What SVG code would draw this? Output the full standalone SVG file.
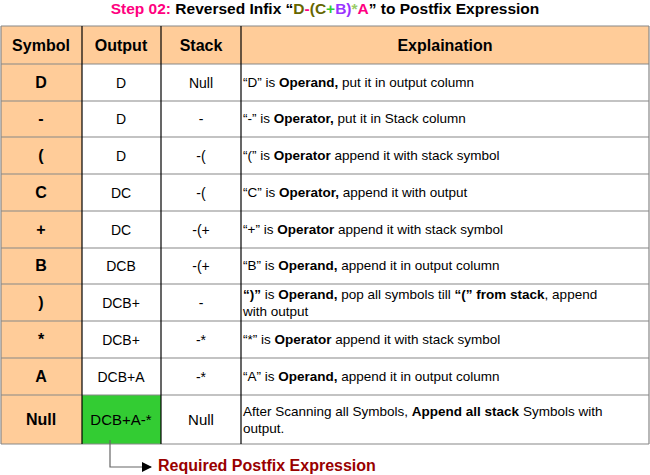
<svg xmlns="http://www.w3.org/2000/svg" width="650" height="475" viewBox="0 0 650 475">
<style>
text{font-family:"Liberation Sans",Arial,sans-serif;font-size:14px;fill:#000}
.c{text-anchor:middle}
.b{font-weight:bold}
.h{font-size:16px;font-weight:bold}
.e{font-size:13.5px}
.hl{stroke:#888;stroke-width:1.2}
.vl{stroke:#000;stroke-width:1.2}
</style>
<defs><marker id="ar" markerWidth="10" markerHeight="10" refX="9" refY="5" orient="auto" markerUnits="userSpaceOnUse"><path d="M0,0L10,5L0,10z" fill="#000"/></marker></defs>
<text x="325" y="14" class="c b" style="font-size:15.5px"><tspan fill="#ff0080">Step 02:</tspan> Reversed Infix “<tspan fill="#666600">D</tspan><tspan fill="#ff0080">-</tspan><tspan fill="#666600">(C</tspan><tspan fill="#33cc33">+</tspan><tspan fill="#9933ff">B)</tspan><tspan fill="#99cc66">*</tspan><tspan fill="#ff0080">A</tspan>” to Postfix Expression</text>
<g id="table">
<rect x="1" y="26" width="648" height="38" fill="#ffcc99"/>
<rect x="1" y="64" width="81" height="380" fill="#ffcc99"/>
<rect x="82" y="395" width="79" height="49" fill="#33cc33"/>
<g class="hl">
<line x1="1" y1="26" x2="649" y2="26"/><line x1="1" y1="64" x2="649" y2="64"/>
<line x1="1" y1="101" x2="649" y2="101"/><line x1="1" y1="137" x2="649" y2="137"/>
<line x1="1" y1="174" x2="649" y2="174"/><line x1="1" y1="211" x2="649" y2="211"/>
<line x1="1" y1="248" x2="649" y2="248"/><line x1="1" y1="284" x2="649" y2="284"/>
<line x1="1" y1="321" x2="649" y2="321"/><line x1="1" y1="358" x2="649" y2="358"/>
<line x1="1" y1="395" x2="649" y2="395"/><line x1="1" y1="444" x2="649" y2="444"/>
<line x1="1" y1="26" x2="1" y2="444"/><line x1="649" y1="26" x2="649" y2="444"/>
</g>
<g class="vl">
<line x1="82" y1="26" x2="82" y2="444"/><line x1="161" y1="26" x2="161" y2="444"/><line x1="241" y1="26" x2="241" y2="444"/>
</g>
</g>
<g id="header" class="h">
<text x="41" y="51" class="c h">Symbol</text><text x="121" y="51" class="c h">Output</text><text x="201" y="51" class="c h">Stack</text><text x="445" y="51" class="c h">Explaination</text>
</g>
<g id="rows">
<text x="41" y="88" class="c h">D</text><text x="121" y="88" class="c">D</text><text x="201" y="88" class="c">Null</text>
<text x="243" y="87" class="e">“D” is <tspan class="b">Operand,</tspan> put it in output column</text>
<text x="41" y="124" class="c h">-</text><text x="121" y="124" class="c">D</text><text x="201" y="124" class="c">-</text>
<text x="243" y="123" class="e">“-” is <tspan class="b">Operator,</tspan> put it in Stack column</text>
<text x="41" y="161" class="c h">(</text><text x="121" y="161" class="c">D</text><text x="201" y="161" class="c">-(</text>
<text x="243" y="160" class="e">“(” is <tspan class="b">Operator</tspan> append it with stack symbol</text>
<text x="41" y="198" class="c h">C</text><text x="121" y="198" class="c">DC</text><text x="201" y="198" class="c">-(</text>
<text x="243" y="197" class="e">“C” is <tspan class="b">Operator,</tspan> append it with output</text>
<text x="41" y="235" class="c h">+</text><text x="121" y="235" class="c">DC</text><text x="201" y="235" class="c">-(+</text>
<text x="243" y="234" class="e">“+” is <tspan class="b">Operator</tspan> append it with stack symbol</text>
<text x="41" y="271" class="c h">B</text><text x="121" y="271" class="c">DCB</text><text x="201" y="271" class="c">-(+</text>
<text x="243" y="270" class="e">“B” is <tspan class="b">Operand,</tspan> append it in output column</text>
<text x="41" y="308" class="c h">)</text><text x="121" y="308" class="c">DCB+</text><text x="201" y="308" class="c">-</text>
<text x="243" y="299" class="e"><tspan class="b">“)”</tspan> is <tspan class="b">Operand,</tspan> pop all symbols till <tspan class="b">“(” from stack</tspan>, append</text>
<text x="243" y="316" class="e">with output</text>
<text x="41" y="345" class="c h">*</text><text x="121" y="345" class="c">DCB+</text><text x="201" y="345" class="c">-*</text>
<text x="243" y="344" class="e">“*” is <tspan class="b">Operator</tspan> append it with stack symbol</text>
<text x="41" y="382" class="c h">A</text><text x="121" y="382" class="c">DCB+A</text><text x="201" y="382" class="c">-*</text>
<text x="243" y="381" class="e">“A” is <tspan class="b">Operand,</tspan> append it in output column</text>
<text x="41" y="425" class="c h">Null</text><text x="121" y="425" class="c" style="font-size:15px">DCB+A-*</text><text x="201" y="425" class="c" style="font-size:15px">Null</text>
<text x="243" y="416" class="e">After Scanning all Symbols, <tspan class="b">Append all stack</tspan> Symbols with</text>
<text x="243" y="433" class="e">output.</text>
</g>
<g id="connectors"><path d="M110,440V467H151" fill="none" stroke="#666" stroke-width="1.2" marker-end="url(#ar)"/></g>
<text x="158" y="471" class="b" style="font-size:16px;fill:#990000">Required Postfix Expression</text>
</svg>
